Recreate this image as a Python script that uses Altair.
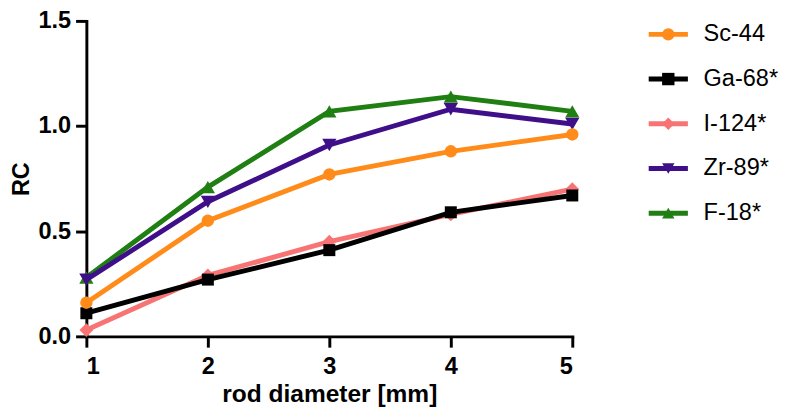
import altair as alt
import pandas as pd

# ---- data ----
series = ["Sc-44", "Ga-68*", "I-124*", "Zr-89*", "F-18*"]
colors = ["#FF8C1A", "#000000", "#F87474", "#3F0F8A", "#1F7F12"]
shapes = ["circle", "square", "diamond", "triangle-down", "triangle-up"]
diam = [1, 2, 3, 4, 5]
sc44 = [0.16, 0.55, 0.77, 0.88, 0.96]
ga68 = [0.11, 0.27, 0.41, 0.59, 0.67]
i124 = [0.03, 0.29, 0.45, 0.58, 0.70]
zr89 = [0.27, 0.64, 0.91, 1.08, 1.01]
f18 = [0.28, 0.71, 1.07, 1.14, 1.07]
x_ticks = [1, 2, 3, 4, 5]
y_ticks = [0.0, 0.5, 1.0, 1.5]

values = [sc44, ga68, i124, zr89, f18]
marker_sizes = [160, 150, 200, 210, 210]

rows = []
for s, vals in zip(series, values):
    for d, v in zip(diam, vals):
        rows.append({"series": s, "d": d, "rc": v})
df = pd.DataFrame(rows)

FONT = "Liberation Sans"
color_scale = alt.Scale(domain=series, range=colors)
shape_scale = alt.Scale(domain=series, range=shapes)

x_enc = alt.X("d:Q", scale=alt.Scale(domain=[1, 5], nice=False, zero=False),
              axis=alt.Axis(values=x_ticks, format="d", title="rod diameter [mm]",
                            tickSize=11, labelPadding=8, titlePadding=4,
                            titleFontSize=25, labelFontSize=24))
y_enc = alt.Y("rc:Q", scale=alt.Scale(domain=[0, 1.5], nice=False),
              axis=alt.Axis(values=y_ticks, format=".1f", title="RC",
                            tickSize=11, labelPadding=5, titlePadding=5,
                            titleFontSize=24, labelFontSize=24))

layers = []
for i in reversed(range(len(series))):
    s = series[i]
    base = alt.Chart(df).transform_filter(alt.datum.series == s)
    line = base.mark_line(strokeWidth=5).encode(
        x=x_enc, y=y_enc,
        color=alt.Color("series:N", scale=color_scale, legend=None))
    pts = base.mark_point(filled=True, opacity=1, size=marker_sizes[i]).encode(
        x=x_enc, y=y_enc,
        color=alt.Color("series:N", scale=color_scale, legend=None),
        shape=alt.Shape("series:N", scale=shape_scale, legend=None))
    layers += [line, pts]

main = alt.layer(*layers).properties(width=496, height=322)

# ---- legend panel built from the series list ----
leg_line = pd.DataFrame([{"series": s, "lx": x} for s in series for x in (0, 1)])
leg_pt = pd.DataFrame([{"series": s, "lx": 0.5} for s in series])
leg_txt = pd.DataFrame([{"series": s, "lx": 1} for s in series])

ly = alt.Y("series:N", sort=series, scale=alt.Scale(type="point", padding=0.3), axis=None)
lx = alt.X("lx:Q", scale=alt.Scale(domain=[0, 1], nice=False), axis=None)

lg_line = alt.Chart(leg_line).mark_line(strokeWidth=5).encode(
    x=lx, y=ly, detail="series:N",
    color=alt.Color("series:N", scale=color_scale, legend=None))
lg_pt = alt.Chart(leg_pt).mark_point(filled=True, opacity=1, size=160).encode(
    x=lx, y=ly,
    color=alt.Color("series:N", scale=color_scale, legend=None),
    shape=alt.Shape("series:N", scale=shape_scale, legend=None))
lg_txt = alt.Chart(leg_txt).mark_text(align="left", baseline="middle", dx=16,
                                      fontSize=24, font=FONT, color="black").encode(
    x=lx, y=ly, text="series:N")

legend = alt.layer(lg_line, lg_pt, lg_txt).properties(width=40, height=210)

chart = alt.hconcat(main, legend, spacing=58).properties(
    padding={"left": 1, "top": -3, "right": 0, "bottom": 0}
).configure_view(stroke=None).configure_axis(
    domainColor="black", domainWidth=3, tickColor="black", tickWidth=3,
    labelColor="black", titleColor="black", labelFont=FONT, titleFont=FONT,
    labelFontWeight="bold", titleFontWeight="bold", grid=False, domainCap="square"
)

chart.save("out.html", embed_options={"renderer": "svg", "actions": False})
